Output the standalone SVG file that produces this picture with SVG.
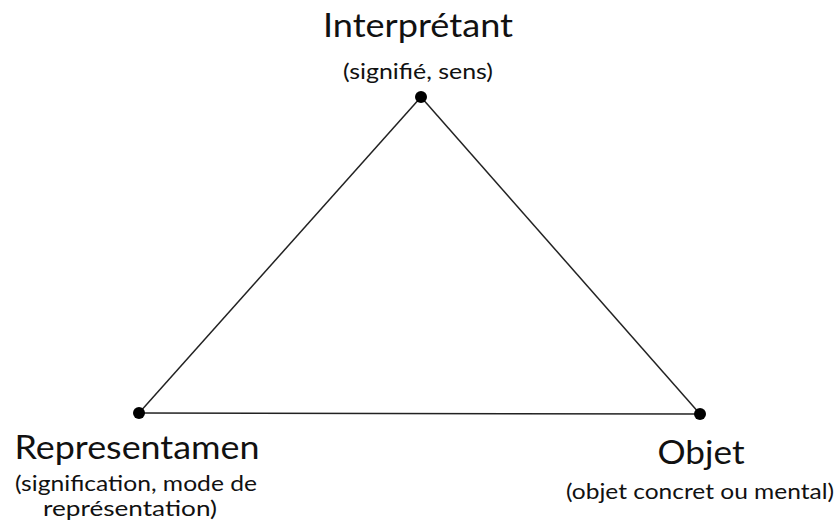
<svg xmlns="http://www.w3.org/2000/svg" width="837" height="529" viewBox="0 0 837 529">
<style>
.t{font-family:Lato,"Open Sans","Liberation Sans",sans-serif;fill:#111;text-anchor:middle}
.big{font-size:33px}
.sm{font-size:21px}
.dot{fill:#000}
.edge{stroke:#222;stroke-width:1.5;fill:none}
</style>
<rect width="837" height="529" fill="#fff"/>
<g id="connectors">
<line class="edge" x1="421" y1="97" x2="139" y2="413"/>
<line class="edge" x1="421" y1="97" x2="700" y2="414"/>
<line class="edge" x1="139" y1="413" x2="700" y2="414"/>
</g>
<g id="interpretant">
<circle class="dot" cx="421" cy="97" r="6"/>
<text class="t big" x="418" y="37" textLength="190" lengthAdjust="spacingAndGlyphs">Interprétant</text>
<text class="t sm" x="418" y="79" textLength="150" lengthAdjust="spacingAndGlyphs">(signifié, sens)</text>
</g>
<g id="representamen">
<circle class="dot" cx="139" cy="413" r="6"/>
<text class="t big" x="137" y="459" textLength="245" lengthAdjust="spacingAndGlyphs">Representamen</text>
<text class="t sm" x="136" y="491" textLength="242" lengthAdjust="spacingAndGlyphs">(signification, mode de</text>
<text class="t sm" x="130" y="516" textLength="174" lengthAdjust="spacingAndGlyphs">représentation)</text>
</g>
<g id="objet">
<circle class="dot" cx="700" cy="414" r="6"/>
<text class="t big" x="701" y="464" textLength="87" lengthAdjust="spacingAndGlyphs">Objet</text>
<text class="t sm" x="700" y="499" textLength="268" lengthAdjust="spacingAndGlyphs">(objet concret ou mental)</text>
</g>
</svg>
